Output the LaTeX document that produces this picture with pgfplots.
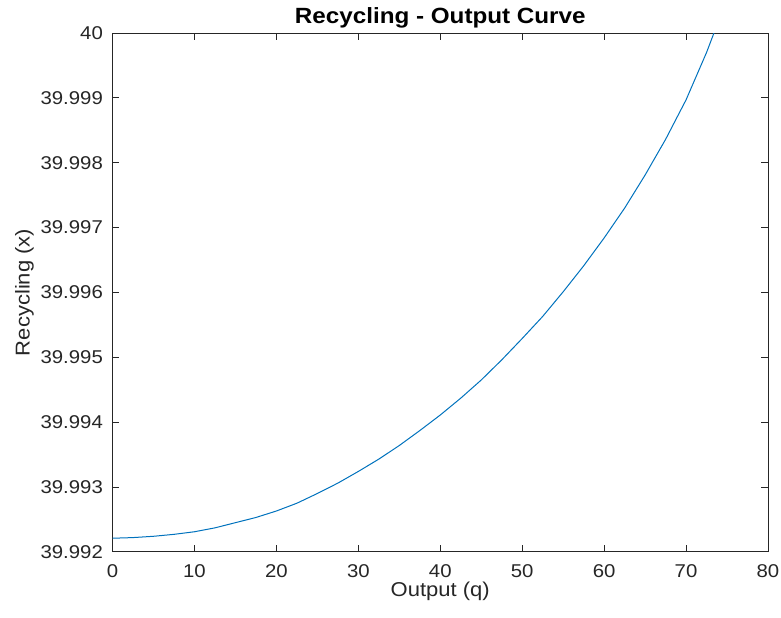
\documentclass[border=0pt]{standalone}
\usepackage{fontspec}
\setmainfont{Liberation Sans}[FakeStretch=1.1]
\usepackage{pgfplots}
\usepackage{pgfplotstable}
\pgfplotsset{compat=1.18}

\definecolor{mlblue}{RGB}{0,114,189}
\definecolor{axgray}{RGB}{38,38,38}

\pgfplotstableread{
q     x
0     39.99221
2.5   39.99222
5     39.99224
7.5   39.99227
10    39.99231
12.5  39.99237
15    39.99245
17.5  39.99253
20    39.99263
22.5  39.99275
25    39.99290
27.5  39.99306
30    39.99324
32.5  39.99343
35    39.99364
37.5  39.99387
40    39.99411
42.5  39.99437
45    39.99465
47.5  39.99496
50    39.99529
52.5  39.99563
55    39.99601
57.5  39.99641
60    39.99684
62.5  39.99730
65    39.99781
67.5  39.99836
70    39.99897
72.5  39.99970
75    40.00053
}\curve

% the values differ only in the 5th decimal, finer than the fpu keeps:
% split the strings and count in units of 1e-5 above 39.992
\def\yfirstfive#1#2#3#4#5#6\relax{#1#2#3#4#5}
\def\ysplit#1.#2.#3\relax{%
  \edef\yoff{\the\numexpr(#1-40)*100000+800+\yfirstfive#200000\relax\relax}}
\pgfplotstablecreatecol[create col/assign/.code={%
  \getthisrow{x}\xval
  \expandafter\ysplit\xval..\relax
  \pgfkeyslet{/pgfplots/table/create col/next content}\yoff}]{xoff}\curve

\begin{document}
\begin{tikzpicture}
\begin{axis}[
  scale only axis,
  width=655bp, height=518.5bp,
  xmin=0, xmax=80,
  ymin=0, ymax=800,
  xtick={0,10,20,30,40,50,60,70,80},
  ytick={0,100,200,300,400,500,600,700,800},
  yticklabels={39.992,39.993,39.994,39.995,39.996,39.997,39.998,39.999,40},
  tick align=inside,
  major tick length=6.5bp,
  axis line style={axgray, line width=0.8bp},
  every tick/.style={axgray, line width=0.8bp},
  /pgf/number format/assume math mode=true,
  tick label style={font=\fontsize{18.5bp}{20bp}\selectfont, text=axgray},
  xticklabel style={anchor=base, inner sep=0pt, yshift=-25.5bp},
  yticklabel style={anchor=east, inner sep=0pt, xshift=-9.5bp},
  xlabel={Output (q)},
  ylabel={Recycling (x)},
  label style={font=\fontsize{20bp}{22bp}\selectfont, text=axgray},
  xlabel style={at={(axis description cs:0.5,0)}, anchor=base, inner sep=0pt, yshift=-45bp},
  ylabel style={at={(axis description cs:0,0.5)}, anchor=base, inner sep=0pt, yshift=83bp},
  title={Recycling - Output Curve},
  every axis title shift=0pt,
  title style={font=\bfseries\fontsize{22bp}{24bp}\selectfont, at={(axis description cs:0.5,1)}, anchor=base, inner sep=0pt, yshift=9.5bp},
]
\addplot[mlblue, line width=1bp] table[x=q, y=xoff] {\curve};
\end{axis}
\pgfresetboundingbox
\path ([shift={(-112.5bp,-65.5bp)}]current axis.south west)
  rectangle ([shift={(13bp,33bp)}]current axis.north east);
\end{tikzpicture}
\end{document}
